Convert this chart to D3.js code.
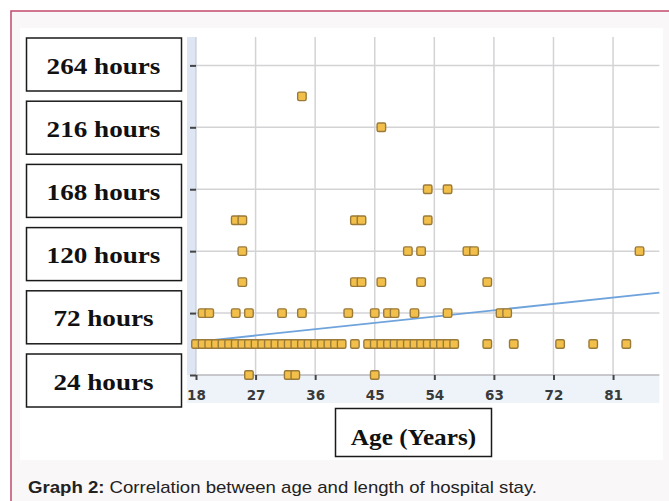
<!DOCTYPE html>
<html>
<head>
<meta charset="utf-8">
<script src="https://cdn.jsdelivr.net/npm/d3@7"></script>
<style>
  html, body { margin: 0; padding: 0; background: #ffffff; }
  svg { display: block; }
</style>
</head>
<body>
<svg id="chart" width="669" height="501"></svg>
<script>
// ---- data (age in years at each length-of-stay level, hours) ----
const stay24  = [26, 32, 33, 45];
const stay48  = [18, 19, 20, 21, 22, 23, 24, 25, 26, 27, 28, 29, 30, 31, 32, 33, 34, 35, 36, 37, 38, 39, 40,
                 42,
                 44, 45, 46, 47, 48, 49, 50, 51, 52, 53, 54, 55, 56, 57,
                 62, 66, 73, 78, 83];
const stay72  = [19, 20, 24, 26, 31, 34, 41, 45, 47, 48, 51, 56, 64, 65];
const stay96  = [25, 42, 43, 46, 52, 62];
const stay120 = [25, 50, 52, 59, 60, 85];
const stay144 = [24, 25, 42, 43, 53];
const stay168 = [53, 56];
const stay216 = [46];
const stay240 = [34];

const stayLevels = [24, 48, 72, 96, 120, 144, 168, 216, 240];
const stayAges   = [stay24, stay48, stay72, stay96, stay120, stay144, stay168, stay216, stay240];

const xTicks = [18, 27, 36, 45, 54, 63, 72, 81];
const yTicks = [24, 72, 120, 168, 216, 264];
const yTickLabels = ["24 hours", "72 hours", "120 hours", "168 hours", "216 hours", "264 hours"];
const xTitle = "Age (Years)";
const captionBold = "Graph 2:";
const captionText = " Correlation between age and length of hospital stay.";

// linear trend line (age, hours)
const trendAges  = [18, 88];
const trendHours = [49.7, 87.8];

// ---- build ----
const points = [];
stayLevels.forEach((h, i) => stayAges[i].forEach(a => points.push({age: a, hours: h})));

const svg = d3.select("#chart");

// frame
svg.append("rect").attr("x", 11).attr("y", 11).attr("width", 720).attr("height", 620)
  .attr("fill", "#faf7f8").attr("stroke", "#c24a6c").attr("stroke-width", 1.5);
svg.append("rect").attr("x", 20).attr("y", 28).attr("width", 643).attr("height", 432)
  .attr("fill", "#ffffff");

const x = d3.scaleLinear().domain([18, 88]).range([196, 659.4]);
const y = d3.scaleLinear().domain([24, 286]).range([375, 37]);
const [x0, x1] = x.range();
const [yb, yt] = y.range();

// axis bands
svg.append("rect").attr("x", 187).attr("y", yt).attr("width", x0 - 187).attr("height", yb - yt)
  .attr("fill", "#dde6f2");
svg.append("rect").attr("x", 187).attr("y", yb).attr("width", x1 - 187).attr("height", 28)
  .attr("fill", "#eef3fa");

// grid
const grid = svg.append("g");
grid.selectAll("line.v").data(xTicks.filter(t => t > 18)).enter().append("line")
  .attr("x1", d => x(d)).attr("x2", d => x(d)).attr("y1", yt).attr("y2", yb)
  .attr("stroke", "#d3d3d6").attr("stroke-width", 1.5);
grid.selectAll("line.h").data(yTicks.filter(t => t > 24)).enter().append("line")
  .attr("x1", x0).attr("x2", x1).attr("y1", d => y(d)).attr("y2", d => y(d))
  .attr("stroke", "#d3d3d6").attr("stroke-width", 1.5);

// axes lines
svg.append("line").attr("x1", x0).attr("x2", x0).attr("y1", yt).attr("y2", yb)
  .attr("stroke", "#b9c3d0").attr("stroke-width", 1);
svg.append("line").attr("x1", x0).attr("x2", x1).attr("y1", yb).attr("y2", yb)
  .attr("stroke", "#b8b8bc").attr("stroke-width", 1.5);

// x axis (ticks + labels) via d3 axis
const xAxis = d3.axisBottom(x).tickValues(xTicks).tickSize(5).tickPadding(10).tickFormat(d3.format("d"));
const gx = svg.append("g").attr("transform", `translate(0,${yb})`).call(xAxis);
gx.select(".domain").remove();
gx.selectAll(".tick line").attr("stroke", "#444").attr("stroke-width", 2);
gx.selectAll(".tick text").attr("fill", "#3a3a3a")
  .attr("font-family", "DejaVu Sans, sans-serif").attr("font-weight", "bold").attr("font-size", 13.5);

// y axis ticks
const yAxis = d3.axisLeft(y).tickValues(yTicks).tickSize(6).tickFormat("");
const gy = svg.append("g").attr("transform", `translate(${x0},0)`).call(yAxis);
gy.select(".domain").remove();
gy.selectAll(".tick line").attr("stroke", "#444").attr("stroke-width", 2);

// trend line
svg.append("path")
  .datum(trendAges.map((a, i) => ({age: a, hours: trendHours[i]})))
  .attr("d", d3.line().x(d => x(d.age)).y(d => y(d.hours)))
  .attr("fill", "none").attr("stroke", "#6fa3dc").attr("stroke-width", 1.8);

// points
const ms = 8.5;
svg.append("g").selectAll("rect").data(points).enter().append("rect")
  .attr("x", d => x(d.age) - ms / 2).attr("y", d => y(d.hours) - ms / 2)
  .attr("width", ms).attr("height", ms).attr("rx", 1.5)
  .attr("fill", "#f2c04a").attr("stroke", "#9a7a3a").attr("stroke-width", 1.4);

// helper: stretch serif label text horizontally like the reference
function stretch(sel, factor) {
  const w = sel.node().getComputedTextLength();
  sel.attr("textLength", w * factor).attr("lengthAdjust", "spacingAndGlyphs");
}

// y label boxes
const boxY = d3.scaleLinear().domain([0, yTicks.length - 1]).range([38, 354]);
const yLab = svg.append("g");
yTicks.slice().reverse().forEach((t, i) => {
  const lbl = yTickLabels[yTicks.indexOf(t)];
  const top = boxY(i);
  yLab.append("rect").attr("x", 26.5).attr("y", top).attr("width", 155).attr("height", 53)
    .attr("fill", "#ffffff").attr("stroke", "#1a1a1a").attr("stroke-width", 1.5);
  const tx = yLab.append("text").attr("x", 103.5).attr("y", top + 35.5).attr("text-anchor", "middle")
    .attr("font-family", "Liberation Serif, Times New Roman, serif").attr("font-weight", "bold")
    .attr("font-size", 24).attr("fill", "#111").text(lbl);
  stretch(tx, 1.13);
});

// x title box
svg.append("rect").attr("x", 335.5).attr("y", 408.5).attr("width", 156).attr("height", 48)
  .attr("fill", "#ffffff").attr("stroke", "#1a1a1a").attr("stroke-width", 1.5);
const xt = svg.append("text").attr("x", 413.5).attr("y", 445).attr("text-anchor", "middle")
  .attr("font-family", "Liberation Serif, Times New Roman, serif").attr("font-weight", "bold")
  .attr("font-size", 24).attr("fill", "#111").text(xTitle);
stretch(xt, 1.05);

// caption
const cap = svg.append("text").attr("x", 28).attr("y", 493)
  .attr("font-family", "Liberation Sans, Arial, sans-serif").attr("font-size", 17).attr("fill", "#222");
cap.append("tspan").attr("font-weight", "bold").text(captionBold);
cap.append("tspan").text(captionText);
const capW = cap.node().getComputedTextLength();
cap.attr("textLength", 509).attr("lengthAdjust", "spacingAndGlyphs");
</script>
</body>
</html>
